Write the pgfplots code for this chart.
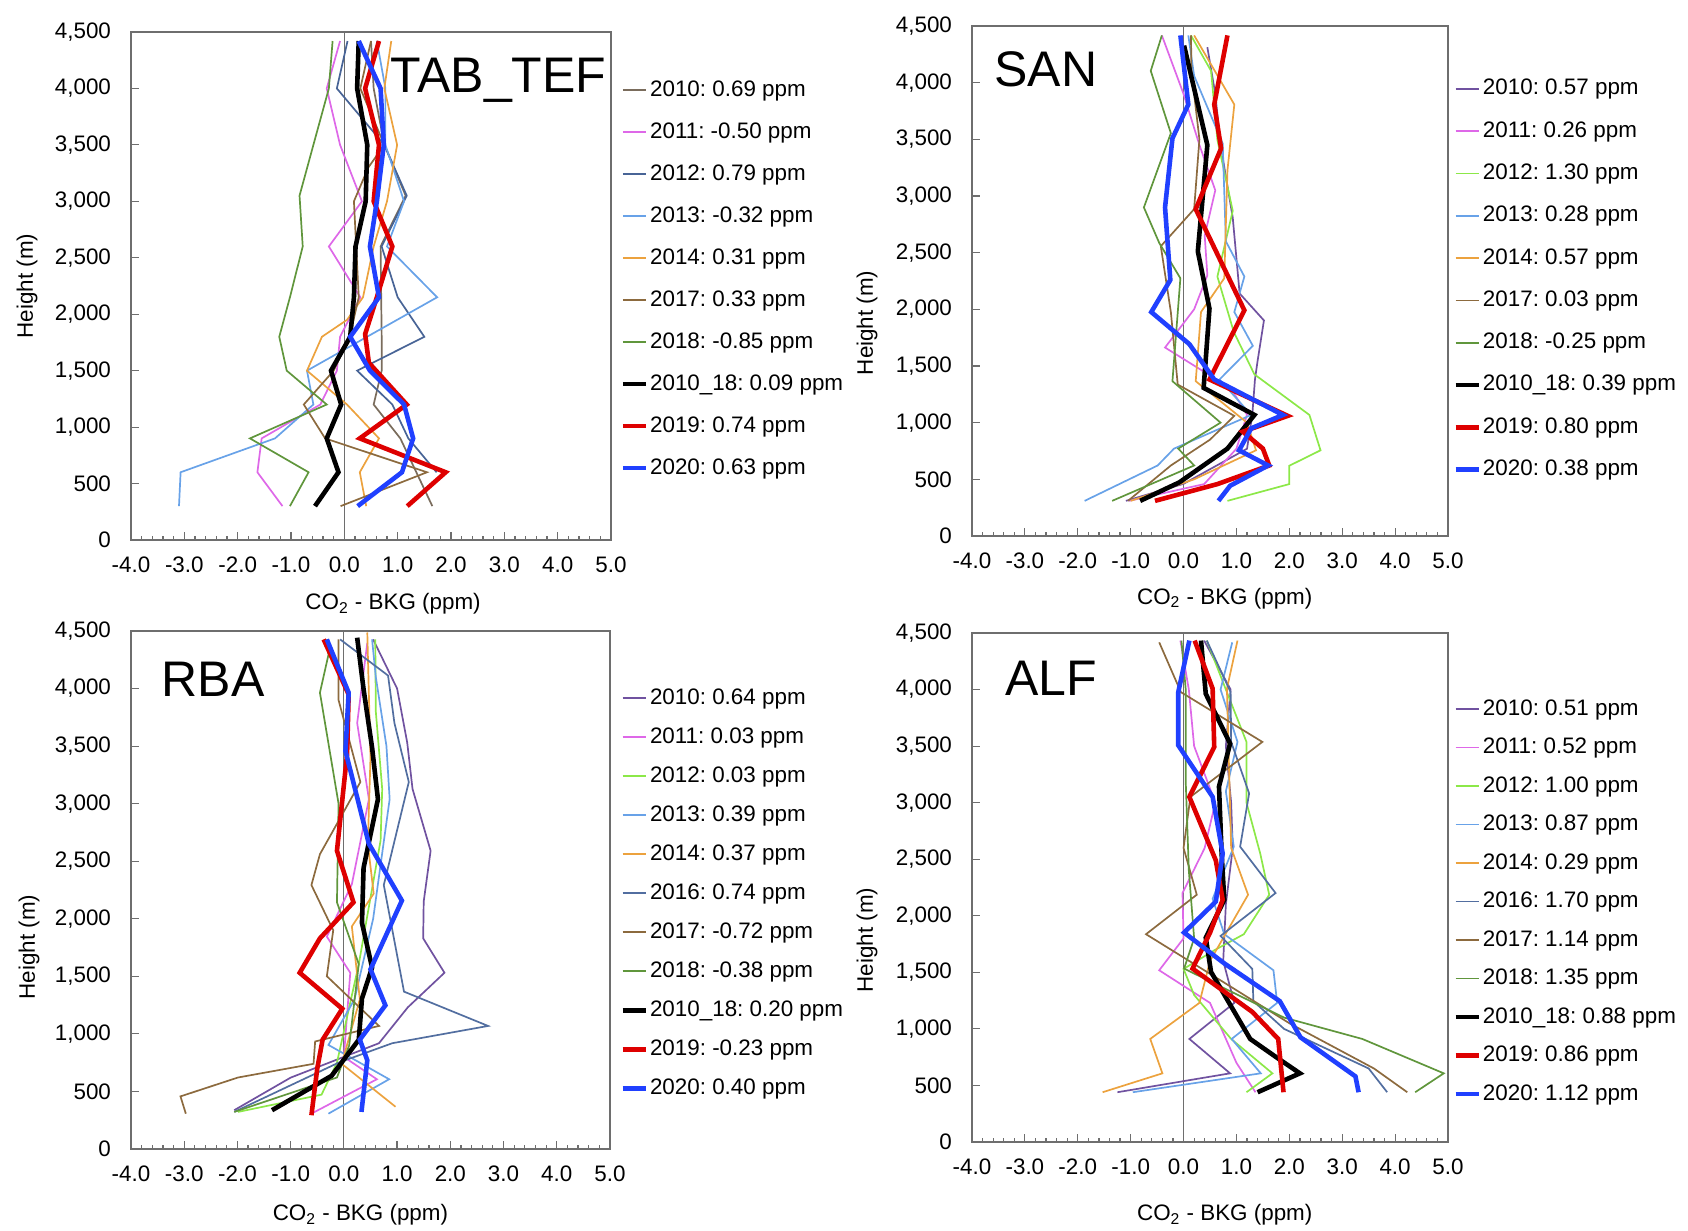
\documentclass[border=0pt]{standalone}
\usepackage{fontspec}
\setmainfont{Liberation Sans}
\usepackage{pgfplots}
\pgfplotsset{compat=1.18}
\definecolor{c10t}{RGB}{122,108,92}
\definecolor{c10}{RGB}{112,82,160}
\definecolor{c11}{RGB}{222,104,232}
\definecolor{c12t}{RGB}{72,100,150}
\definecolor{c12}{RGB}{140,232,72}
\definecolor{c13}{RGB}{104,162,232}
\definecolor{c14}{RGB}{236,162,62}
\definecolor{c16}{RGB}{82,110,160}
\definecolor{c17}{RGB}{140,106,62}
\definecolor{c18}{RGB}{96,150,60}
\definecolor{cred}{RGB}{222,0,0}
\definecolor{cblue}{RGB}{32,64,255}
\definecolor{axgray}{RGB}{110,110,110}
\newcommand\fs{\fontsize{11.2}{13}\selectfont}
\newcommand\panelfont{\fontsize{25}{30}\selectfont}
\frenchspacing
\pgfplotsset{
  thin/.style={line width=0.85pt},
  thick/.style={line width=2.3pt},
  panel/.style={
    scale only axis, xmin=-4, xmax=5, ymin=0, ymax=4500,
    xtick={-4,-3,...,5}, ytick={0,500,...,4500}, minor x tick num=4,
    tick pos=left, tick align=inside,
    major tick length=4pt, minor tick length=2.2pt,
    axis line style={draw=axgray, line width=0.6pt},
    every tick/.style={axgray, line width=0.6pt},
    /pgf/number format/assume math mode=true,
    tick label style={font=\fs},
    xticklabel style={/pgf/number format/fixed, /pgf/number format/fixed zerofill, /pgf/number format/precision=1, yshift=-5pt},
    yticklabel style={/pgf/number format/1000 sep={,}, xshift=-6.5pt},
    label style={font=\fs},
    ylabel={Height (m)},
    xlabel={CO\textsubscript{2} - BKG (ppm)},
    legend cell align=left,
    legend image code/.code={\draw[##1] (0pt,0pt) -- (11.5pt,0pt);},
    legend style={draw=none, fill=none, font=\fs\frenchspacing, anchor=north west, inner sep=0pt,
      column sep=0pt, nodes={inner sep=1pt, text height=8pt, text depth=2pt}},
  },
}
\begin{document}
\begin{tikzpicture}
\useasboundingbox (0,0) rectangle (844pt,615.5pt);

% ---------------- TAB_TEF ----------------
\begin{axis}[panel, at={(65.5pt,345.5pt)}, anchor=south west, width=240pt, height=254pt,
  xlabel style={at={(axis description cs:0.546,0)}, anchor=center, yshift=-32pt},
  ylabel style={at={(axis description cs:0,0.5)}, anchor=center, yshift=52pt},
  legend style={at={(1.019,0.910)}, row sep=9pt}]
\addplot[forget plot, axgray, line width=0.6pt] coordinates {(0,0) (0,4500)};
\addplot[thin, c10t] coordinates {(1.65,300) (1.35,600) (1.05,900) (0.55,1200) (0.70,1500) (0.70,1800) (0.68,2600) (1.15,3050) (0.75,3500) (0.55,4000) (0.50,4420)};
\addlegendentry{2010: 0.69 ppm}
\addplot[thin, c11] coordinates {(-1.16,300) (-1.63,600) (-1.55,900) (-0.45,1200) (-0.14,1500) (-0.08,1800) (0.30,2150) (-0.29,2600) (0.33,3000) (-0.08,3500) (-0.33,4000) (-0.08,4420)};
\addlegendentry{2011: -0.50 ppm}
\addplot[thin, c12t] coordinates {(1.73,600) (1.20,900) (0.90,1200) (0.24,1500) (1.50,1800) (1.00,2150) (0.70,2600) (1.17,3050) (0.75,3500) (-0.14,4000) (0.06,4420)};
\addlegendentry{2012: 0.79 ppm}
\addplot[thin, c13] coordinates {(-3.10,300) (-3.07,600) (-1.30,900) (-0.58,1200) (-0.70,1500) (1.74,2150) (0.80,2600) (1.12,3000) (0.77,3500) (0.77,4000) (0.61,4420)};
\addlegendentry{2013: -0.32 ppm}
\addplot[thin, c14] coordinates {(0.41,300) (0.29,600) (0.65,900) (0.05,1200) (-0.70,1500) (-0.42,1800) (0.05,1950) (0.35,2150) (0.55,2600) (0.80,3000) (0.99,3500) (0.75,4000) (0.88,4420)};
\addlegendentry{2014: 0.31 ppm}
\addplot[thin, c17] coordinates {(-0.07,300) (1.55,600) (-0.36,900) (-0.76,1200) (-0.20,1500) (0.10,1800) (0.27,2150) (0.18,3000) (0.45,3300) (0.75,3500) (0.30,4000) (0.50,4420)};
\addlegendentry{2017: 0.33 ppm}
\addplot[thin, c18] coordinates {(-1.02,300) (-0.67,600) (-1.77,900) (-0.33,1200) (-1.08,1500) (-1.22,1800) (-1.02,2150) (-0.78,2600) (-0.84,3050) (-0.58,3500) (-0.29,4000) (-0.22,4420)};
\addlegendentry{2018: -0.85 ppm}
\addplot[thick, black] coordinates {(-0.55,300) (-0.11,600) (-0.33,900) (-0.06,1200) (-0.25,1500) (0.11,1800) (0.18,2150) (0.21,2600) (0.40,3000) (0.43,3500) (0.24,4000) (0.27,4420)};
\addlegendentry{2010\_18: 0.09 ppm}
\addplot[thick, cred] coordinates {(1.18,300) (1.90,600) (0.29,900) (1.17,1200) (0.46,1570) (0.39,1824) (0.61,2150) (0.90,2600) (0.55,3000) (0.65,3500) (0.39,4000) (0.65,4420)};
\addlegendentry{2019: 0.74 ppm}
\addplot[thick, cblue] coordinates {(0.25,300) (1.08,600) (1.29,900) (1.12,1200) (0.48,1500) (0.11,1800) (0.65,2150) (0.48,2600) (0.61,3000) (0.74,3500) (0.68,4000) (0.27,4420)};
\addlegendentry{2020: 0.63 ppm}
\node[anchor=base west, inner sep=0pt, font=\panelfont] at (rel axis cs:0.540,0.880) {TAB\_TEF};
\end{axis}

% ---------------- SAN ----------------
\begin{axis}[panel, at={(486pt,347.5pt)}, anchor=south west, width=238pt, height=255pt,
  xlabel style={at={(axis description cs:0.531,0)}, anchor=center, yshift=-31.25pt},
  ylabel style={at={(axis description cs:0,0.418)}, anchor=center, yshift=52.5pt},
  legend style={at={(1.0105,0.901)}, row sep=9.15pt}]
\addplot[forget plot, axgray, line width=0.6pt] coordinates {(0,0) (0,4500)};
\addplot[thin, c10] coordinates {(-1.09,310) (0.00,460) (1.20,770) (1.30,1070) (1.35,1380) (1.40,1545) (1.52,1902) (1.06,2140) (0.93,2810) (0.70,3450) (0.60,3900) (0.45,4313)};
\addlegendentry{2010: 0.57 ppm}
\addplot[thin, c11] coordinates {(-1.03,310) (0.39,458) (1.00,770) (1.20,1070) (0.90,1300) (-0.35,1663) (0.20,2000) (0.45,2300) (0.40,2650) (0.60,3050) (0.30,3450) (0.00,3900) (-0.41,4417)};
\addlegendentry{2011: 0.26 ppm}
\addplot[thin, c12] coordinates {(0.83,310) (2.00,458) (2.00,620) (2.59,756) (2.38,1068) (1.34,1426) (0.95,1800) (0.64,2289) (0.93,2869) (0.64,3494) (0.52,4104) (0.14,4417)};
\addlegendentry{2012: 1.30 ppm}
\addplot[thin, c13] coordinates {(-1.87,310) (-0.49,622) (-0.18,771) (1.28,1068) (0.68,1381) (1.31,1678) (0.96,1976) (1.15,2289) (0.80,2600) (0.74,3464) (0.20,4060) (0.09,4417)};
\addlegendentry{2013: 0.28 ppm}
\addplot[thin, c14] coordinates {(-1.00,310) (0.20,500) (1.37,756) (1.20,1000) (0.23,1366) (0.33,1976) (0.77,2274) (0.83,3226) (0.96,3807) (0.20,4417)};
\addlegendentry{2014: 0.57 ppm}
\addplot[thin, c17] coordinates {(-1.05,310) (-0.24,622) (0.50,850) (0.96,1060) (-0.11,1336) (-0.24,1976) (-0.43,2557) (0.20,2884) (0.30,3500) (0.15,4100) (0.14,4417)};
\addlegendentry{2017: 0.03 ppm}
\addplot[thin, c18] coordinates {(-1.35,310) (0.20,622) (-0.10,771) (0.70,1000) (-0.21,1366) (-0.06,2274) (-0.46,2586) (-0.75,2899) (-0.24,3554) (-0.62,4104) (-0.41,4417)};
\addlegendentry{2018: -0.25 ppm}
\addplot[thick, black] coordinates {(-0.82,310) (-0.08,473) (0.83,771) (1.34,1068) (0.38,1307) (0.49,2006) (0.27,2512) (0.45,3449) (0.01,4327)};
\addlegendentry{2010\_18: 0.39 ppm}
\addplot[thick, cred] coordinates {(-0.54,310) (0.64,458) (1.62,622) (1.50,771) (1.12,920) (1.97,1060) (0.49,1381) (1.15,1991) (0.23,2884) (0.71,3420) (0.58,3807) (0.83,4417)};
\addlegendentry{2019: 0.80 ppm}
\addplot[thick, cblue] coordinates {(0.66,310) (0.88,443) (1.60,622) (1.05,756) (1.28,950) (1.88,1068) (0.58,1381) (0.11,1693) (-0.61,1976) (-0.25,2259) (-0.35,2899) (-0.21,3509) (0.09,3807) (-0.06,4417)};
\addlegendentry{2020: 0.38 ppm}
\node[anchor=base west, inner sep=0pt, font=\panelfont] at (rel axis cs:0.046,0.881) {SAN};
\end{axis}

% ---------------- RBA ----------------
\begin{axis}[panel, at={(65.5pt,41pt)}, anchor=south west, width=239.5pt, height=259pt,
  xlabel style={at={(axis description cs:0.479,0)}, anchor=center, yshift=-33pt},
  ylabel style={at={(axis description cs:0,0.39)}, anchor=center, yshift=51pt},
  legend style={at={(1.021,0.894)}, row sep=7.5pt}]
\addplot[forget plot, axgray, line width=0.6pt] coordinates {(0,0) (0,4500)};
\addplot[thin, c10] coordinates {(-2.06,337) (-1.00,620) (0.66,919) (1.20,1230) (1.89,1531) (1.49,1830) (1.50,2150) (1.63,2591) (1.29,3128) (1.19,3531) (1.00,4000) (0.55,4427)};
\addlegendentry{2010: 0.64 ppm}
\addplot[thin, c11] coordinates {(-0.61,307) (0.62,606) (0.00,800) (0.12,1531) (-0.32,1845) (0.15,2300) (0.47,3039) (0.25,3700) (0.44,4397)};
\addlegendentry{2011: 0.03 ppm}
\addplot[thin, c12] coordinates {(-1.99,322) (-0.42,472) (-0.13,750) (0.28,1606) (0.69,2681) (0.72,3128) (0.60,3800) (0.59,4427)};
\addlegendentry{2012: 0.03 ppm}
\addplot[thin, c13] coordinates {(-0.29,307) (0.85,606) (-0.29,904) (0.20,1300) (0.55,2000) (0.86,3039) (0.80,3500) (0.60,4100) (0.53,4427)};
\addlegendentry{2013: 0.39 ppm}
\addplot[thin, c14] coordinates {(0.97,367) (-0.04,740) (0.30,1300) (0.15,1934) (0.56,2218) (0.45,2650) (0.50,3400) (0.44,4487)};
\addlegendentry{2014: 0.37 ppm}
\addplot[thin, c16] coordinates {(-2.06,322) (-0.10,750) (0.91,919) (2.71,1069) (1.13,1367) (0.75,2293) (1.22,3188) (0.95,3700) (0.83,4113) (-0.07,4427)};
\addlegendentry{2016: 0.74 ppm}
\addplot[thin, c17] coordinates {(-2.97,307) (-3.07,457) (-1.99,621) (-0.57,740) (-0.54,934) (0.66,1069) (-0.32,1501) (-0.20,1900) (-0.61,2293) (-0.45,2561) (0.31,3188) (-0.10,3900) (-0.10,4427)};
\addlegendentry{2017: -0.72 ppm}
\addplot[thin, c18] coordinates {(-2.06,322) (-0.13,621) (0.10,900) (0.28,1606) (-0.13,2143) (-0.10,3000) (-0.45,3964) (-0.29,4293) (-0.32,4427)};
\addlegendentry{2018: -0.38 ppm}
\addplot[thick, black] coordinates {(-1.35,337) (-0.23,636) (0.28,949) (0.34,1307) (0.53,1576) (0.34,1964) (0.37,2442) (0.64,3039) (0.53,3487) (0.37,3994) (0.25,4442)};
\addlegendentry{2010\_18: 0.20 ppm}
\addplot[thick, cred] coordinates {(-0.61,293) (-0.50,700) (-0.40,949) (-0.03,1218) (-0.83,1531) (-0.45,1830) (0.18,2143) (-0.13,2591) (0.06,3427) (0.09,3949) (-0.38,4427)};
\addlegendentry{2019: -0.23 ppm}
\addplot[thick, cblue] coordinates {(0.33,322) (0.44,770) (0.30,950) (0.78,1248) (0.50,1561) (1.09,2158) (0.47,2651) (0.03,3457) (0.09,3964) (-0.32,4427)};
\addlegendentry{2020: 0.40 ppm}
\node[anchor=base west, inner sep=0pt, font=\panelfont] at (rel axis cs:0.063,0.874) {RBA};
\end{axis}

% ---------------- ALF ----------------
\begin{axis}[panel, at={(486pt,44.5pt)}, anchor=south west, width=238pt, height=254.5pt,
  xlabel style={at={(axis description cs:0.531,0)}, anchor=center, yshift=-36.5pt},
  ylabel style={at={(axis description cs:0,0.397)}, anchor=center, yshift=52.5pt},
  legend style={at={(1.0105,0.875)}, row sep=7.25pt}]
\addplot[forget plot, axgray, line width=0.6pt] coordinates {(0,0) (0,4500)};
\addplot[thin, c10] coordinates {(-1.25,440) (0.88,607) (0.11,911) (0.96,1230) (0.75,1600) (0.80,2100) (0.93,2600) (0.90,3000) (0.80,3500) (0.89,4000) (0.39,4433)};
\addlegendentry{2010: 0.51 ppm}
\addplot[thin, c11] coordinates {(1.36,440) (1.00,700) (0.50,1230) (-0.46,1518) (0.00,1800) (-0.02,2201) (0.40,2600) (0.60,3000) (0.20,3500) (0.10,4000) (-0.06,4433)};
\addlegendentry{2011: 0.52 ppm}
\addplot[thin, c12] coordinates {(1.19,440) (1.68,607) (0.90,911) (0.20,1300) (0.00,1530) (0.60,1700) (1.14,1837) (1.62,2186) (1.45,2550) (1.19,3000) (1.19,3537) (0.80,4000) (0.44,4433)};
\addlegendentry{2012: 1.00 ppm}
\addplot[thin, c13] coordinates {(-0.96,440) (1.46,607) (0.91,911) (1.77,1230) (1.70,1518) (0.77,1837) (0.55,2150) (0.95,2611) (0.80,3100) (1.02,3537) (0.70,4000) (0.92,4417)};
\addlegendentry{2013: 0.87 ppm}
\addplot[thin, c14] coordinates {(-1.53,440) (-0.40,607) (-0.63,911) (0.30,1230) (0.50,1600) (1.22,2186) (0.90,2600) (0.82,4008) (1.02,4433)};
\addlegendentry{2014: 0.29 ppm}
\addplot[thin, c16] coordinates {(3.85,440) (3.50,650) (1.90,1000) (1.32,1245) (1.30,1530) (0.70,1822) (1.74,2201) (1.07,2611) (1.24,3082) (0.90,3537) (0.89,3977) (0.44,4433)};
\addlegendentry{2016: 1.70 ppm}
\addplot[thin, c17] coordinates {(4.23,440) (3.60,650) (2.00,1050) (0.80,1400) (-0.71,1837) (0.25,2186) (0.00,2600) (0.13,3051) (1.49,3537) (-0.05,3977) (-0.46,4417)};
\addlegendentry{2017: 1.14 ppm}
\addplot[thin, c18] coordinates {(4.38,440) (4.92,607) (3.38,911) (1.90,1100) (0.01,1533) (0.20,1800) (0.10,2400) (0.04,3200) (0.04,4008) (-0.04,4433)};
\addlegendentry{2018: 1.35 ppm}
\addplot[thick, black] coordinates {(1.40,440) (2.20,607) (1.77,744) (1.26,911) (0.52,1503) (0.42,1806) (0.77,2140) (0.72,2550) (0.67,3142) (0.88,3522) (0.42,3962) (0.33,4433)};
\addlegendentry{2010\_18: 0.88 ppm}
\addplot[thick, cred] coordinates {(1.89,440) (1.79,911) (1.30,1150) (0.17,1533) (0.50,1850) (0.74,2140) (0.61,2490) (0.11,3051) (0.58,3491) (0.55,4008) (0.21,4433)};
\addlegendentry{2019: 0.86 ppm}
\addplot[thick, cblue] coordinates {(3.31,440) (3.25,580) (2.21,926) (1.82,1245) (0.77,1579) (0.01,1852) (0.61,2125) (0.74,2550) (0.55,3051) (-0.10,3507) (-0.10,3977) (0.11,4433)};
\addlegendentry{2020: 1.12 ppm}
\node[anchor=base west, inner sep=0pt, font=\panelfont] at (rel axis cs:0.069,0.878) {ALF};
\end{axis}
\end{tikzpicture}
\end{document}
